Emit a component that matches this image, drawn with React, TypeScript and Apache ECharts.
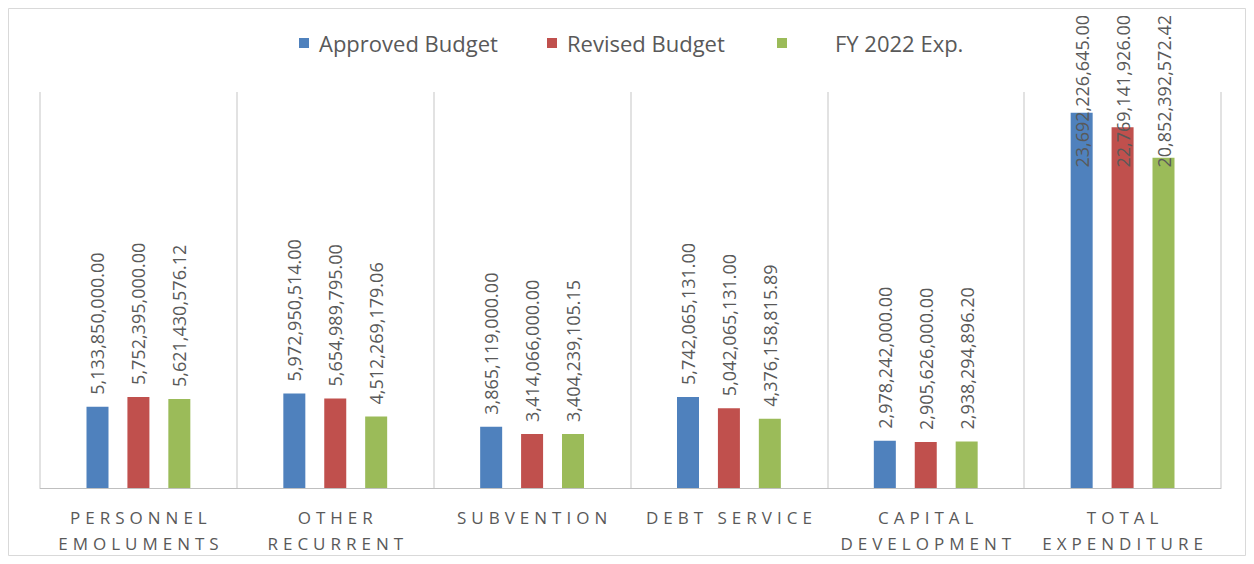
import React, { useEffect, useRef } from "react";
import * as echarts from "echarts";

const categories = [
  "PERSONNEL\nEMOLUMENTS",
  "OTHER\nRECURRENT",
  "SUBVENTION",
  "DEBT SERVICE",
  "CAPITAL\nDEVELOPMENT",
  "TOTAL\nEXPENDITURE",
];
const approvedBudget = [5133850000.0, 5972950514.0, 3865119000.0, 5742065131.0, 2978242000.0, 23692226645.0];
const revisedBudget = [5752395000.0, 5654989795.0, 3414066000.0, 5042065131.0, 2905626000.0, 22769141926.0];
const fy2022Exp = [5621430576.12, 4512269179.06, 3404239105.15, 4376158815.89, 2938294896.2, 20852392572.42];
const seriesNames = ["Approved Budget", "Revised Budget", "FY 2022 Exp."];
const seriesValues = [approvedBudget, revisedBudget, fy2022Exp];
const colors = ["#4F81BD", "#C0504D", "#9BBB59"];

const FONT = "'Open Sans', 'Noto Sans', sans-serif";
const TEXT_COLOR = "#595959";

const fmt = (v: number) =>
  v.toLocaleString("en-US", { minimumFractionDigits: 2, maximumFractionDigits: 2 });

export default function App() {
  const ref = useRef<HTMLDivElement>(null);

  useEffect(() => {
    if (!ref.current) return;
    const el = ref.current;
    const chart = echarts.init(el, undefined, { renderer: "svg" });

    const legendLefts = [286, 534, 764];
    const legendPads = [
      [0, 0, 0, 5],
      [0, 0, 0, 5],
      [0, 0, 0, 43],
    ];

    const option: any = {
      animation: false,
      backgroundColor: "#ffffff",
      textStyle: { fontFamily: FONT },
      graphic: [
        {
          type: "rect",
          silent: true,
          shape: { x: 0.5, y: 0.5, width: 1237, height: 547 },
          style: { fill: "none", stroke: "#d9d9d9", lineWidth: 1 },
        },
      ],
      legend: seriesNames.map((name, i) => ({
        data: [name],
        left: legendLefts[i],
        top: 18,
        icon: "rect",
        itemWidth: 10,
        itemHeight: 10,
        selectedMode: false,
        textStyle: {
          fontFamily: FONT,
          fontSize: 22,
          lineHeight: 24,
          color: TEXT_COLOR,
          padding: legendPads[i],
        },
      })),
      grid: { left: 32, right: 25, top: 84, bottom: 68, containLabel: false },
      xAxis: {
        type: "category",
        data: categories,
        boundaryGap: true,
        axisLine: { show: true, lineStyle: { color: "#bfbfbf", width: 1 } },
        axisTick: { show: false },
        splitLine: { show: true, lineStyle: { color: "#d9d9d9", width: 1.5 } },
        axisLabel: {
          interval: 0,
          margin: 16,
          fontFamily: FONT,
          fontSize: 17,
          lineHeight: 26,
          color: TEXT_COLOR,
        },
      },
      yAxis: {
        type: "value",
        min: 0,
        max: 25000000000,
        show: false,
        splitLine: { show: false },
      },
      series: seriesNames.map((name, i) => ({
        name,
        type: "bar",
        data: seriesValues[i],
        barWidth: 22,
        barGap: "86%",
        itemStyle: { color: colors[i] },
        label: {
          show: true,
          position: "top",
          rotate: 90,
          align: "left",
          verticalAlign: "middle",
          distance: 12,
          fontFamily: FONT,
          fontSize: 18,
          color: TEXT_COLOR,
          formatter: (p: any) => fmt(p.value),
        },
        labelLayout: (p: any) => {
          const r = p.labelRect;
          // offset is applied in the label's rotated frame: local x points up
          if (r && r.y < 7) return { dx: r.y - 7 };
          return {};
        },
      })),
    };

    chart.setOption(option);

    const lines = new Set(categories.flatMap((c) => c.split("\n")));
    const applySpacing = () => {
      el.querySelectorAll("text").forEach((t) => {
        const s = (t.textContent || "").trim();
        if (lines.has(s)) {
          t.setAttribute("letter-spacing", "5");
          t.setAttribute("dx", "2.5");
        }
      });
    };
    applySpacing();
    chart.on("finished", applySpacing);

    return () => {
      chart.dispose();
    };
  }, []);

  return <div ref={ref} style={{ width: 1238, height: 548 }} />;
}
